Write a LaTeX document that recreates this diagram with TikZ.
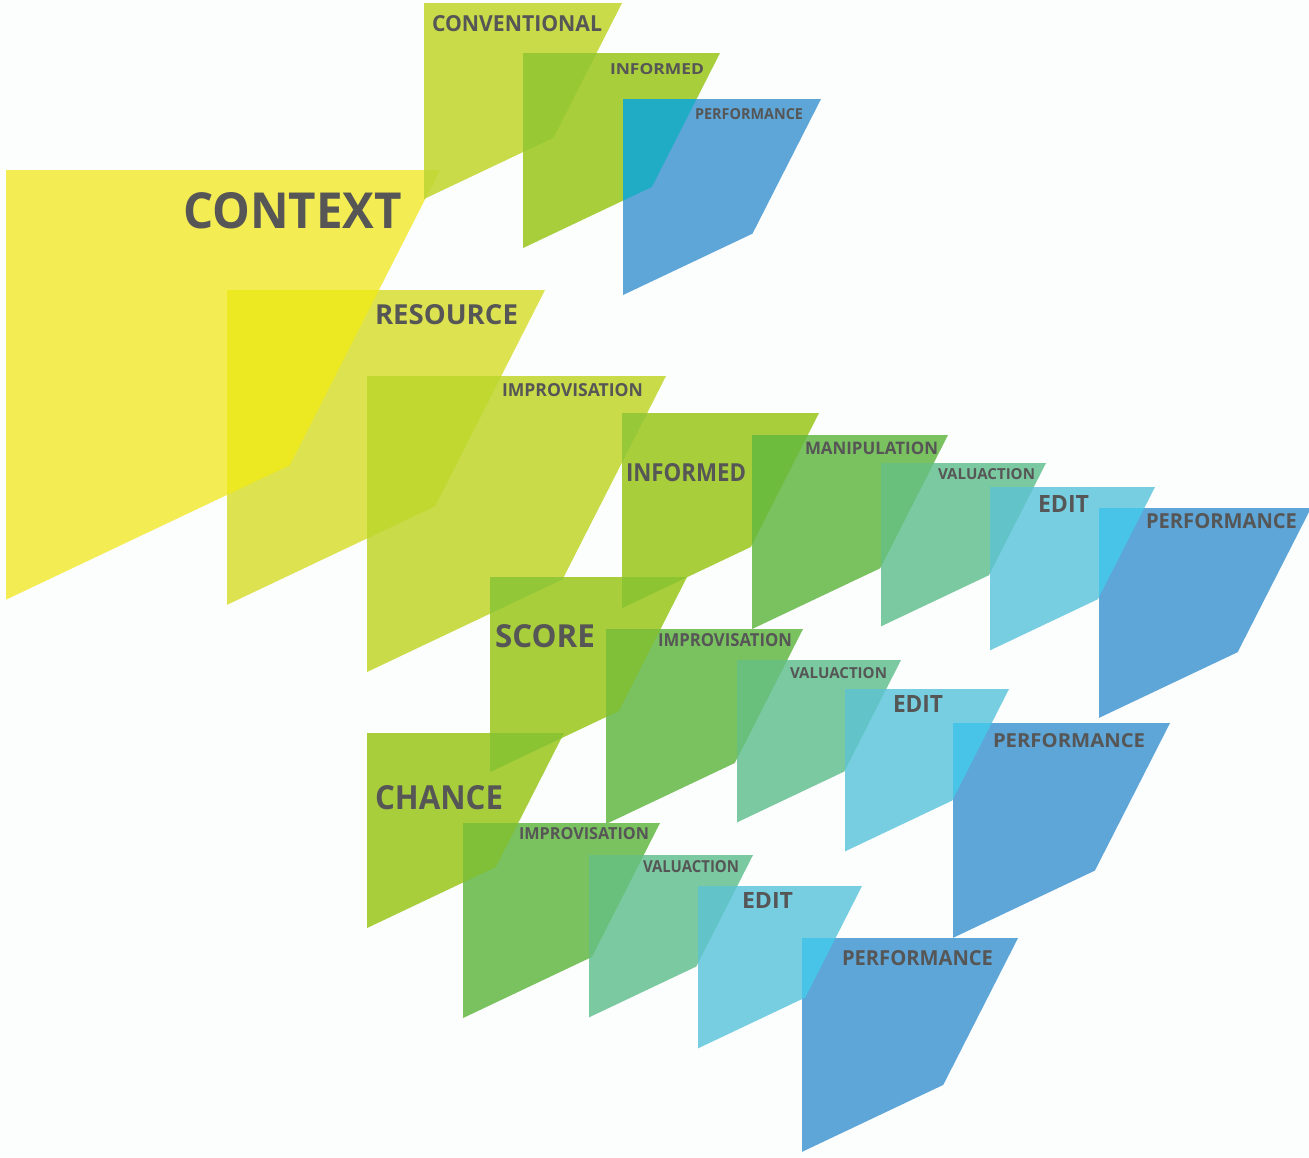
\documentclass[tikz,border=0pt]{standalone}
\usepackage{fontspec}
\setmainfont{Open Sans}
\usepackage{graphicx}

% plate colours (as seen on the page)
\definecolor{bgpaper}{RGB}{252,253,253}
\definecolor{cContext}{RGB}{243,236,82}
\definecolor{cResource}{RGB}{221,226,80}
\definecolor{cLime}{RGB}{201,219,72}
\definecolor{cLeaf}{RGB}{168,206,60}
\definecolor{cGrass}{RGB}{122,193,96}
\definecolor{cSea}{RGB}{122,201,160}
\definecolor{cSky}{RGB}{118,206,224}
\definecolor{cBlue}{RGB}{94,166,216}
% colours where two plates overlap
\definecolor{oCtxConv}{RGB}{196,216,56}
\definecolor{oCtxRes}{RGB}{236,232,34}
\definecolor{oResImp}{RGB}{192,216,48}
\definecolor{oConvInf}{RGB}{152,200,52}
\definecolor{oInfPerf}{RGB}{32,172,196}
\definecolor{oImpInf}{RGB}{150,200,56}
\definecolor{oImpScore}{RGB}{146,200,56}
\definecolor{oInfScore}{RGB}{140,196,50}
\definecolor{oLeafGrass}{RGB}{110,188,62}
\definecolor{oScoreGrass}{RGB}{128,192,56}
\definecolor{oScoreChance}{RGB}{138,196,50}
\definecolor{oGrassSea}{RGB}{104,192,124}
\definecolor{oSeaSky}{RGB}{98,196,200}
\definecolor{oSkyBlue}{RGB}{72,196,232}
\definecolor{txtgray}{RGB}{86,86,86}

\tikzset{
  % a slanted plate: left x, top y, width
  plate/.style n args={3}{insert path={
    (#1,#2) -- ({#1+#3},#2) -- ({#1+0.654*#3},{#2+0.68*#3}) -- (#1,{#2+0.99*#3}) -- cycle}},
  p-context/.style={plate={6}{170}{434}},
  p-conventional/.style={plate={424}{3}{198}},
  p-informedA/.style={plate={523}{53}{197}},
  p-perfA/.style={plate={623}{99}{198}},
  p-resource/.style={plate={227}{290}{318}},
  p-improvA/.style={plate={367}{376}{299}},
  p-informedB/.style={plate={622}{413}{197}},
  p-manip/.style={plate={752}{435}{196}},
  p-valB/.style={plate={881}{463}{165}},
  p-editB/.style={plate={990}{487}{165}},
  p-perfB/.style={plate={1099}{508}{212}},
  p-score/.style={plate={490}{577}{197}},
  p-improvC/.style={plate={606}{629}{197}},
  p-valC/.style={plate={737}{660}{164}},
  p-editC/.style={plate={845}{689}{164}},
  p-perfC/.style={plate={953}{723}{217}},
  p-chance/.style={plate={367}{733}{197}},
  p-improvD/.style={plate={463}{823}{197}},
  p-valD/.style={plate={589}{855}{164}},
  p-editD/.style={plate={698}{886}{164}},
  p-perfD/.style={plate={802}{938}{216}},
  lbl/.style={anchor=base west, inner sep=0pt, outer sep=0pt, text=txtgray, font=\bfseries},
}

% fill the common part of two plates
\newcommand\overlap[3]{%
  \begin{scope}
    \path[clip,#1];
    \path[fill=#3,#2];
  \end{scope}}

\begin{document}
\begin{tikzpicture}[x=1pt,y=-1pt]
  \path[fill=bgpaper] (0,0) rectangle (1309,1157);
  \useasboundingbox (0,0) rectangle (1309,1157);

  % plates
  \path[fill=cContext, p-context];
  \path[fill=cLime, p-conventional];
  \path[fill=cLeaf, p-informedA];
  \path[fill=cBlue, p-perfA];
  \path[fill=cResource, p-resource];
  \path[fill=cLime, p-improvA];
  \path[fill=cLeaf, p-informedB];
  \path[fill=cGrass, p-manip];
  \path[fill=cSea, p-valB];
  \path[fill=cSky, p-editB];
  \path[fill=cBlue, p-perfB];
  \path[fill=cLeaf, p-score];
  \path[fill=cGrass, p-improvC];
  \path[fill=cSea, p-valC];
  \path[fill=cSky, p-editC];
  \path[fill=cBlue, p-perfC];
  \path[fill=cLeaf, p-chance];
  \path[fill=cGrass, p-improvD];
  \path[fill=cSea, p-valD];
  \path[fill=cSky, p-editD];
  \path[fill=cBlue, p-perfD];

  % overlaps
  \overlap{p-context}{p-conventional}{oCtxConv}
  \overlap{p-context}{p-resource}{oCtxRes}
  \overlap{p-resource}{p-improvA}{oResImp}
  \overlap{p-conventional}{p-informedA}{oConvInf}
  \overlap{p-informedA}{p-perfA}{oInfPerf}
  \overlap{p-improvA}{p-informedB}{oImpInf}
  \overlap{p-improvA}{p-score}{oImpScore}
  \overlap{p-informedB}{p-score}{oInfScore}
  \overlap{p-informedB}{p-manip}{oLeafGrass}
  \overlap{p-manip}{p-valB}{oGrassSea}
  \overlap{p-valB}{p-editB}{oSeaSky}
  \overlap{p-editB}{p-perfB}{oSkyBlue}
  \overlap{p-score}{p-improvC}{oScoreGrass}
  \overlap{p-score}{p-chance}{oScoreChance}
  \overlap{p-improvC}{p-valC}{oGrassSea}
  \overlap{p-valC}{p-editC}{oSeaSky}
  \overlap{p-editC}{p-perfC}{oSkyBlue}
  \overlap{p-chance}{p-improvD}{oScoreGrass}
  \overlap{p-improvD}{p-valD}{oGrassSea}
  \overlap{p-valD}{p-editD}{oSeaSky}
  \overlap{p-editD}{p-perfD}{oSkyBlue}

  % labels: left x, baseline y, ink width, cap height
  \node[lbl] (t-context)  at (183,228) {\resizebox{219pt}{36pt}{CONTEXT}};
  \node[lbl] (t-conv)     at (432,31)  {\resizebox{170pt}{16pt}{CONVENTIONAL}};
  \node[lbl] (t-infA)     at (610,74)  {\resizebox{94pt}{11pt}{INFORMED}};
  \node[lbl] (t-perfA)    at (695,119) {\resizebox{108pt}{11pt}{PERFORMANCE}};
  \node[lbl] (t-resource) at (375,324) {\resizebox{143pt}{20pt}{RESOURCE}};
  \node[lbl] (t-impA)     at (502,396) {\resizebox{141pt}{13pt}{IMPROVISATION}};
  \node[lbl] (t-infB)     at (626,481) {\resizebox{120pt}{18pt}{INFORMED}};
  \node[lbl] (t-manip)    at (805,454) {\resizebox{133pt}{12.5pt}{MANIPULATION}};
  \node[lbl] (t-valB)     at (938,479) {\resizebox{97pt}{11pt}{VALUACTION}};
  \node[lbl] (t-editB)    at (1038,512) {\resizebox{51pt}{17pt}{EDIT}};
  \node[lbl] (t-perfB)    at (1146,528) {\resizebox{151pt}{15pt}{PERFORMANCE}};
  \node[lbl] (t-score)    at (495,647) {\resizebox{100pt}{23pt}{SCORE}};
  \node[lbl] (t-impC)     at (658,646) {\resizebox{134pt}{13pt}{IMPROVISATION}};
  \node[lbl] (t-valC)     at (790,678) {\resizebox{97pt}{11pt}{VALUACTION}};
  \node[lbl] (t-editC)    at (893,712) {\resizebox{50pt}{17pt}{EDIT}};
  \node[lbl] (t-perfC)    at (993,747) {\resizebox{152pt}{14pt}{PERFORMANCE}};
  \node[lbl] (t-chance)   at (375,809) {\resizebox{128pt}{24pt}{CHANCE}};
  \node[lbl] (t-impD)     at (519,839) {\resizebox{130pt}{12pt}{IMPROVISATION}};
  \node[lbl] (t-valD)     at (643,872) {\resizebox{96pt}{12pt}{VALUACTION}};
  \node[lbl] (t-editD)    at (742,908) {\resizebox{51pt}{16pt}{EDIT}};
  \node[lbl] (t-perfD)    at (842,965) {\resizebox{151pt}{15pt}{PERFORMANCE}};
\end{tikzpicture}
\end{document}
